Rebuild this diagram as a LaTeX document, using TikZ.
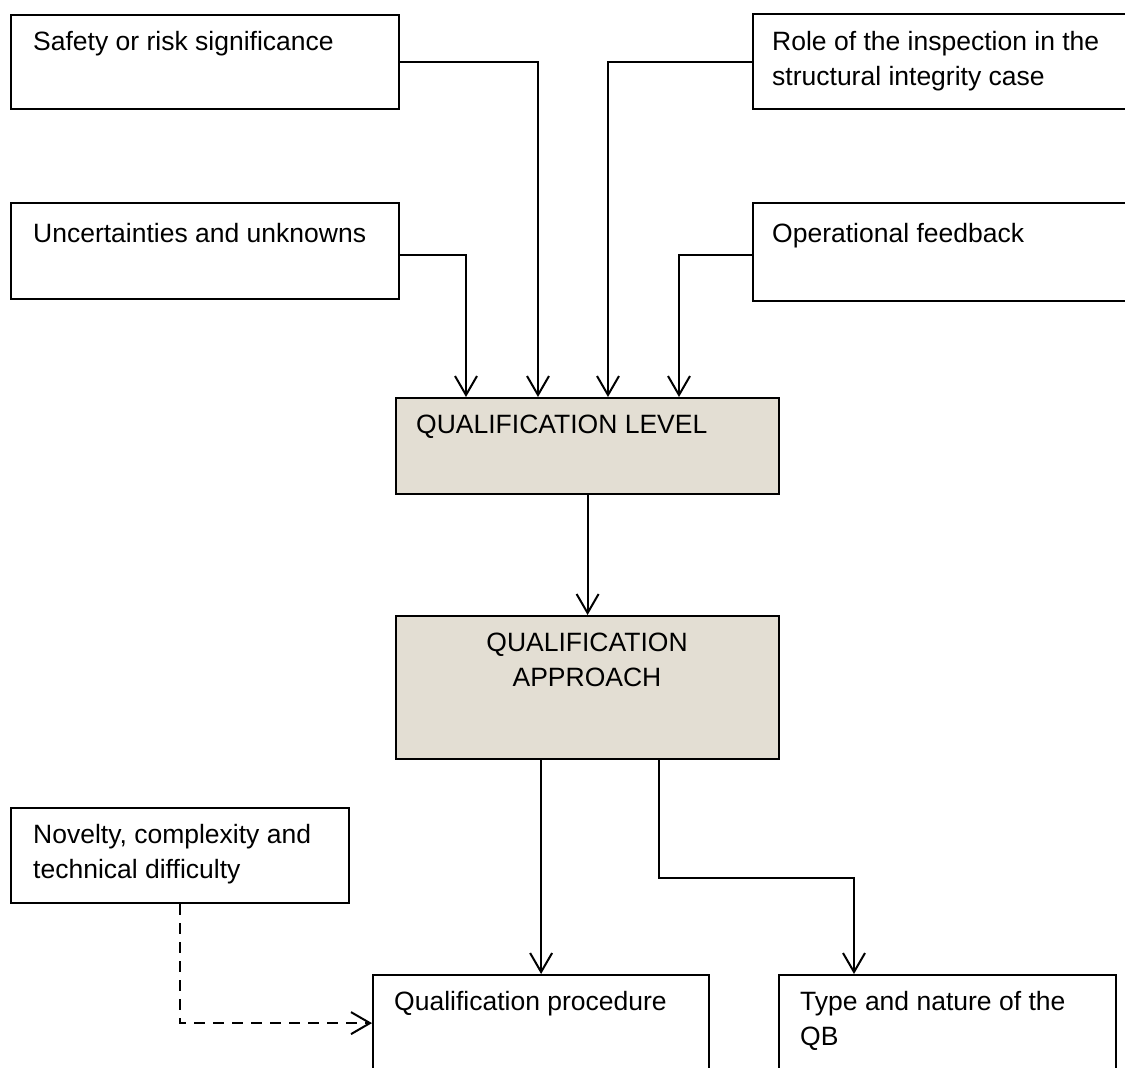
\documentclass[tikz,border=0pt]{standalone}
\usepackage{fontspec}
\setmainfont{Liberation Sans}
\usetikzlibrary{arrows.meta,calc}
\definecolor{beige}{RGB}{227,222,211}
\begin{document}
\begin{tikzpicture}[x=1pt,y=-1pt,
  box/.style={draw=black,line width=2.2pt,fill=white,rectangle,anchor=north west,inner sep=0pt},
  qbox/.style={box,fill=beige},
  lbl/.style={anchor=base west,inner sep=0pt,align=left,font=\fontsize{26.5}{35}\selectfont},
  clbl/.style={anchor=base,inner sep=0pt,align=center,font=\fontsize{26.5}{35}\selectfont},
  conn/.style={line width=2pt,-{Straight Barb[length=19pt,width=22pt,line width=2pt]}},
  dconn/.style={conn,dash pattern=on 11pt off 8pt}]
\useasboundingbox (0,0) rectangle (1125,1068);
\node[box,minimum width=388pt,minimum height=94pt] (safety) at (10,14) {};
\node[box,minimum width=380pt,minimum height=95pt] (role) at (752,13) {};
\node[box,minimum width=388pt,minimum height=96pt] (uncert) at (10,202) {};
\node[box,minimum width=380pt,minimum height=98pt] (oper) at (752,202) {};
\node[qbox,minimum width=383pt,minimum height=96pt] (level) at (395,397) {};
\node[qbox,minimum width=383pt,minimum height=143pt] (approach) at (395,615) {};
\node[box,minimum width=338pt,minimum height=95pt] (novelty) at (10,807) {};
\node[box,minimum width=336pt,minimum height=96pt] (proc) at (372,974) {};
\node[box,minimum width=337pt,minimum height=96pt] (type) at (778,974) {};

\node[lbl] (tsafety) at (33,50) {Safety or risk significance};
\node[lbl] (trole) at (772,85) {Role of the inspection in the\\structural integrity case};
\node[lbl] (tuncert) at (33,242) {Uncertainties and unknowns};
\node[lbl] (toper) at (772,242) {Operational feedback};
\node[lbl] (tlevel) at (416,433) {QUALIFICATION LEVEL};
\node[clbl] (tapproach) at (587,686) {QUALIFICATION\\APPROACH};
\node[lbl] (tnovelty) at (33,878) {Novelty, complexity and\\technical difficulty};
\node[lbl] (tproc) at (394,1010) {Qualification procedure};
\node[lbl] (ttype) at (800,1045) {Type and nature of the\\QB};

\draw[conn] (safety.east) -| ([xshift=143pt]level.north west);
\draw[conn] ([yshift=-4pt]uncert.east) -| ([xshift=71pt]level.north west);
\draw[conn] (role.west |- safety.east) -| ([xshift=213pt]level.north west);
\draw[conn] ([yshift=-3pt]oper.west) -| ([xshift=284pt]level.north west);
\draw[conn] (level.south) -- (approach.north);
\draw[conn] (approach.south -| proc.north) -- (proc.north);
\coordinate (bend) at (854,878);
\draw[conn] ([xshift=264pt]approach.south west) |- (bend) -- (bend |- type.north);
\draw[dconn] (novelty.south) |- (proc.west);
\end{tikzpicture}
\end{document}
